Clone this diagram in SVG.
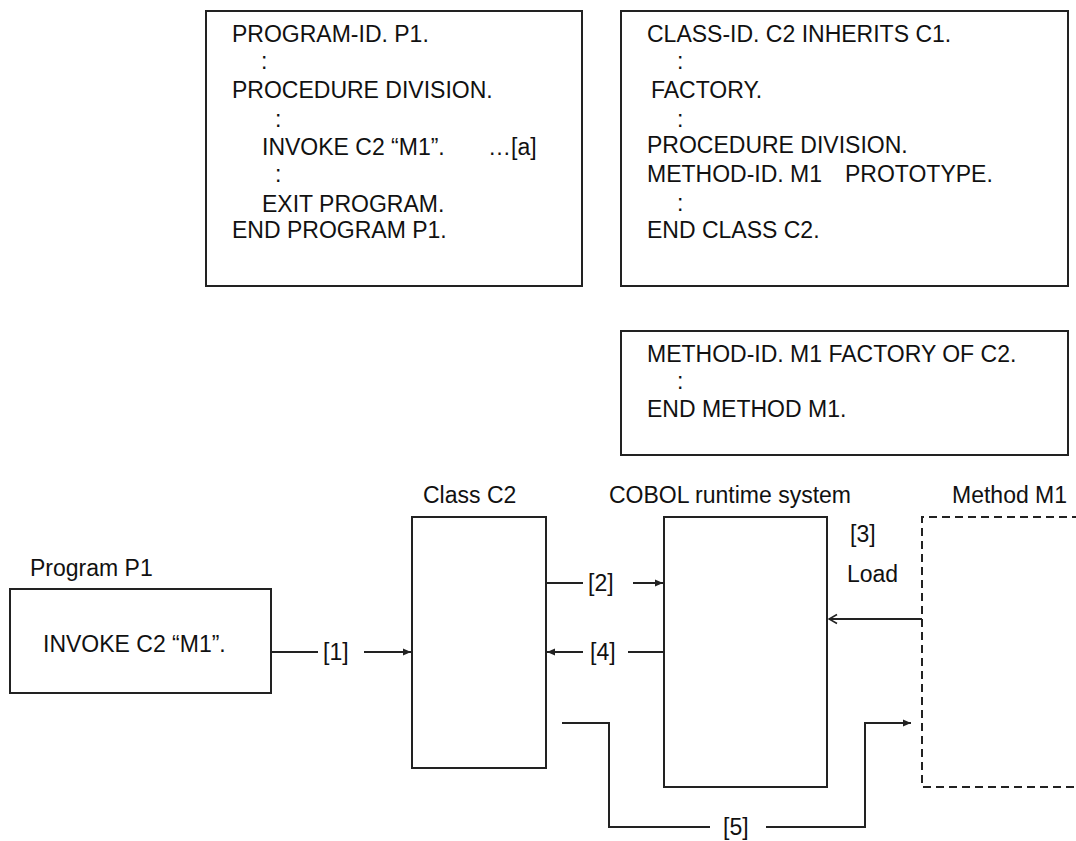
<svg xmlns="http://www.w3.org/2000/svg" width="1076" height="841" viewBox="0 0 1076 841">
<style>
text{font-family:"Liberation Sans",Arial,sans-serif;font-size:23px;fill:#111}
.box{fill:#fff;stroke:#222;stroke-width:2}
.dash{fill:none;stroke:#222;stroke-width:2;stroke-dasharray:8 5}
.ln{fill:none;stroke:#222;stroke-width:2}
</style>
<defs>
<marker id="ah" markerUnits="userSpaceOnUse" markerWidth="10" markerHeight="10" refX="9" refY="5" orient="auto">
<path d="M1,1.5 L9,5 L1,8.5 Z" fill="#222"/>
</marker>
<marker id="ao" markerUnits="userSpaceOnUse" markerWidth="10" markerHeight="12" refX="9" refY="6" orient="auto">
<path d="M1,1.5 L9,6 L1,10.5" fill="none" stroke="#222" stroke-width="1.6"/>
</marker>
</defs>
<rect width="1076" height="841" fill="#fff"/>
<g id="program-source">
<rect class="box" x="206" y="11" width="376" height="275"/>
<text x="232" y="42">PROGRAM-ID. P1.</text>
<text x="261" y="69">:</text>
<text x="232" y="98">PROCEDURE DIVISION.</text>
<text x="275" y="127">:</text>
<text x="262" y="155">INVOKE C2 “M1”.</text>
<text x="488" y="155">…[a]</text>
<text x="275" y="182">:</text>
<text x="262" y="212">EXIT PROGRAM.</text>
<text x="232" y="238">END PROGRAM P1.</text>
</g>
<g id="class-source">
<rect class="box" x="621" y="11" width="447" height="275"/>
<text x="647" y="42">CLASS-ID. C2 INHERITS C1.</text>
<text x="677" y="69">:</text>
<text x="651" y="98">FACTORY.</text>
<text x="677" y="127">:</text>
<text x="647" y="153">PROCEDURE DIVISION.</text>
<text x="647" y="182">METHOD-ID. M1</text>
<text x="845" y="182">PROTOTYPE.</text>
<text x="677" y="211">:</text>
<text x="647" y="238">END CLASS C2.</text>
</g>
<g id="method-source">
<rect class="box" x="621" y="331" width="447" height="124"/>
<text x="647" y="362">METHOD-ID. M1 FACTORY OF C2.</text>
<text x="677" y="389">:</text>
<text x="647" y="417">END METHOD M1.</text>
</g>
<g id="program-p1">
<text x="30" y="576">Program P1</text>
<rect class="box" x="10" y="589" width="261" height="104"/>
<text x="43" y="652">INVOKE C2 “M1”.</text>
</g>
<g id="class-c2">
<text x="423" y="503">Class C2</text>
<rect class="box" x="412" y="517" width="134" height="251"/>
</g>
<g id="cobol-runtime">
<text x="609" y="503">COBOL runtime system</text>
<rect class="box" x="664" y="517" width="163" height="270"/>
</g>
<g id="method-m1">
<text x="952" y="503">Method M1</text>
<path class="dash" d="M1080,517 H922 V787 H1080"/>
</g>
<g id="connectors">
<line class="ln" x1="271" y1="652" x2="318" y2="652"/>
<line class="ln" x1="364" y1="652" x2="411" y2="652" marker-end="url(#ah)"/>
<text x="323" y="660">[1]</text>
<line class="ln" x1="546" y1="583" x2="583" y2="583"/>
<line class="ln" x1="633" y1="583" x2="663" y2="583" marker-end="url(#ah)"/>
<text x="588" y="591">[2]</text>
<line class="ln" x1="922" y1="619" x2="829" y2="619" marker-end="url(#ao)"/>
<text x="850" y="542">[3]</text>
<text x="847" y="582">Load</text>
<line class="ln" x1="664" y1="652" x2="628" y2="652"/>
<line class="ln" x1="583" y1="652" x2="547" y2="652" marker-end="url(#ah)"/>
<text x="590" y="660">[4]</text>
<polyline class="ln" points="562,723 609,723 609,827 710,827"/>
<polyline class="ln" points="766,827 865,827 865,723 911,723" marker-end="url(#ah)"/>
<text x="723" y="835">[5]</text>
</g>
</svg>
